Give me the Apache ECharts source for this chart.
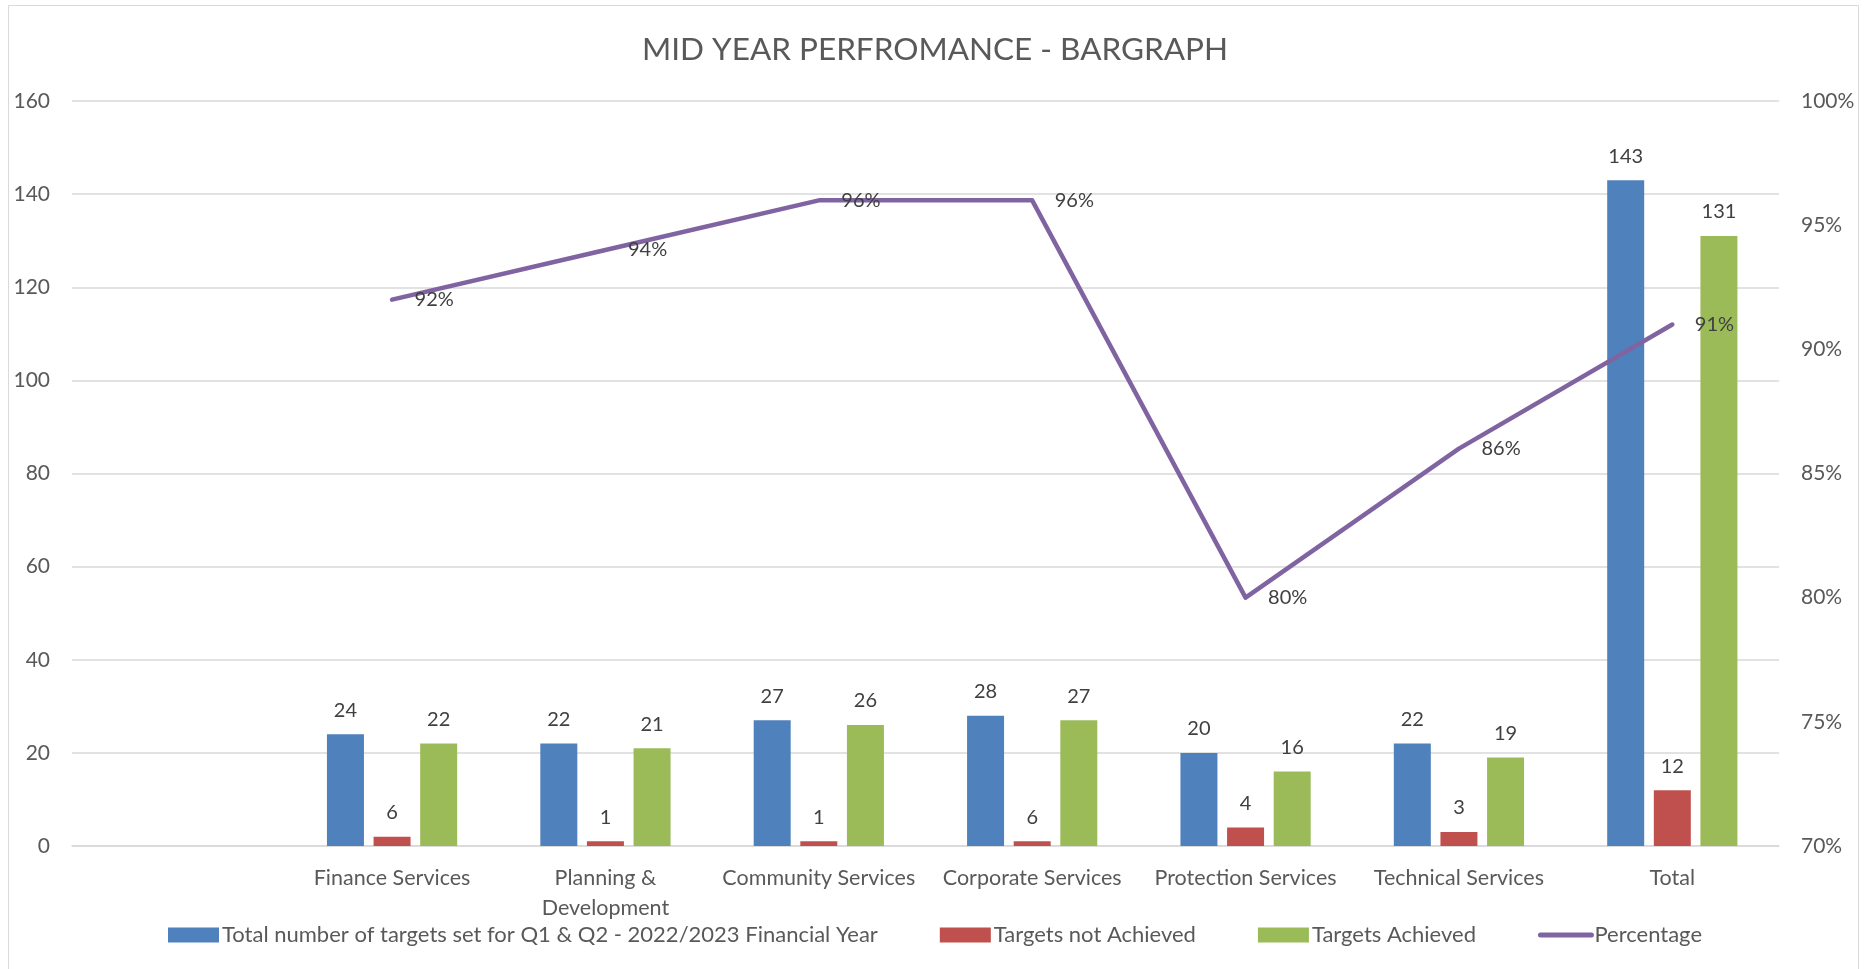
<!DOCTYPE html>
<html>
<head>
<meta charset="utf-8">
<script src="https://cdn.jsdelivr.net/npm/echarts@6/dist/echarts.min.js"></script>
<style>
html,body{margin:0;padding:0;background:#fff;}
#chart{width:1870px;height:969px;}
</style>
</head>
<body>
<div id="chart"></div>
<script>
var categories = ['', 'Finance Services', 'Planning &\nDevelopment', 'Community Services', 'Corporate Services', 'Protection Services', 'Technical Services', 'Total'];
var totalTargets = [null, 24, 22, 27, 28, 20, 22, 143];
var notAchieved = [null, 2, 1, 1, 1, 4, 3, 12];
var notAchievedLabels = ['', '6', '1', '1', '6', '4', '3', '12'];
var achieved = [null, 22, 21, 26, 27, 16, 19, 131];
var percentage = [null, 0.92, 0.94, 0.96, 0.96, 0.80, 0.86, 0.91];
var leftTicks = [0, 160, 20];
var rightTicks = [0.70, 1.00, 0.05];

var FONT = 'Lato';
var chart = echarts.init(document.getElementById('chart'));
var labelStyle = {fontFamily: FONT, fontSize: 20, color: '#404040'};
chart.setOption({
  animation: false,
  textStyle: {fontFamily: FONT},
  title: {
    text: 'MID YEAR PERFROMANCE - BARGRAPH',
    left: 'center', top: 29,
    textStyle: {fontFamily: FONT, fontSize: 31.5, fontWeight: 'normal', color: '#595959'}
  },
  graphic: [{
    type: 'rect', shape: {x: 8.5, y: 5.5, width: 1850, height: 980},
    style: {fill: 'none', stroke: '#D9D9D9', lineWidth: 1}, silent: true
  }],
  grid: {left: 72, right: 91, top: 101, bottom: 123},
  legend: {
    left: 'center', top: 919, itemGap: 62, itemWidth: 51, itemHeight: 15,
    textStyle: {fontFamily: FONT, fontSize: 22, color: '#595959', padding: [0, 0, 0, -2]},
    data: [
      {name: 'Total number of targets set for Q1 & Q2 - 2022/2023 Financial Year', icon: 'rect'},
      {name: 'Targets not Achieved', icon: 'rect'},
      {name: 'Targets Achieved', icon: 'rect'},
      {name: 'Percentage', itemStyle: {opacity: 0}, lineStyle: {width: 5, color: '#8064A2', cap: 'round'}}
    ]
  },
  xAxis: {
    type: 'category', data: categories,
    axisLine: {lineStyle: {color: '#D9D9D9', width: 1.5}},
    axisTick: {show: false},
    axisLabel: {fontFamily: FONT, fontSize: 21.5, color: '#595959', margin: 17, lineHeight: 30, interval: 0}
  },
  yAxis: [{
    type: 'value', min: leftTicks[0], max: leftTicks[1], interval: leftTicks[2],
    axisLine: {show: false}, axisTick: {show: false},
    axisLabel: {fontFamily: FONT, fontSize: 21, color: '#595959', margin: 22},
    splitLine: {lineStyle: {color: '#D9D9D9', width: 1.5}}
  }, {
    type: 'value', min: rightTicks[0], max: rightTicks[1], interval: rightTicks[2],
    axisLine: {show: false}, axisTick: {show: false},
    axisLabel: {fontFamily: FONT, fontSize: 21, color: '#595959', margin: 22,
      formatter: function (v) { return Math.round(v * 100) + '%'; }},
    splitLine: {show: false}
  }],
  series: [{
    name: 'Total number of targets set for Q1 & Q2 - 2022/2023 Financial Year',
    type: 'bar', data: totalTargets, barWidth: 37, barGap: '26%',
    itemStyle: {color: '#4F81BD'},
    label: Object.assign({show: true, position: 'top', distance: 14}, labelStyle)
  }, {
    name: 'Targets not Achieved',
    type: 'bar', data: notAchieved, barWidth: 37, barGap: '26%',
    itemStyle: {color: '#C0504D'},
    label: Object.assign({show: true, position: 'top', distance: 14,
      formatter: function (p) { return notAchievedLabels[p.dataIndex]; }}, labelStyle)
  }, {
    name: 'Targets Achieved',
    type: 'bar', data: achieved, barWidth: 37, barGap: '26%',
    itemStyle: {color: '#9BBB59'},
    label: Object.assign({show: true, position: 'top', distance: 14}, labelStyle)
  }, {
    name: 'Percentage',
    type: 'line', yAxisIndex: 1, data: percentage,
    symbol: 'circle', symbolSize: 1, showSymbol: true,
    lineStyle: {color: '#8064A2', width: 4.5, cap: 'round', join: 'round'},
    itemStyle: {color: '#8064A2', opacity: 0},
    label: Object.assign({show: true, opacity: 1, position: 'right', distance: 22,
      formatter: function (p) { return Math.round(p.value * 100) + '%'; }}, labelStyle),
    z: 5
  }]
});
</script>
</body>
</html>
